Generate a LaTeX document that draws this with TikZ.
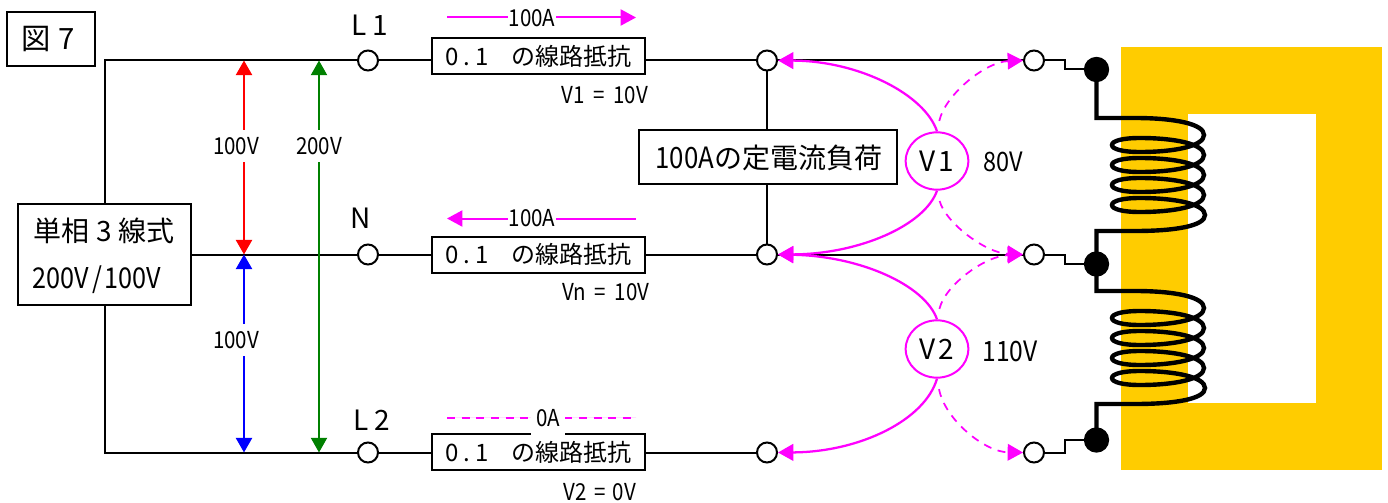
\documentclass[tikz,border=0pt]{standalone}
\usepackage{fontspec}
\setmainfont{Noto Sans CJK JP}
\newfontfamily\nar[FakeStretch=0.88]{Noto Sans CJK JP}
\usetikzlibrary{arrows.meta,shapes.geometric}
\definecolor{core}{HTML}{FFCC00}
\definecolor{mag}{HTML}{FF00FF}
\definecolor{grn}{HTML}{008000}
\tikzset{
  x=0.75pt,y=-0.75pt,
  wire/.style={draw=black,line width=1.5pt},
  term/.style={circle,draw=black,fill=white,line width=1.5pt,minimum size=15pt,inner sep=0pt},
  dotn/.style={circle,fill=black,minimum size=19pt,inner sep=0pt},
  res/.style={draw=black,fill=white,line width=1.5pt,minimum width=159.5pt,minimum height=27pt,inner sep=0pt,font=\fontsize{18pt}{20pt}\selectfont},
  bigbox/.style={draw=black,fill=white,line width=1.5pt,inner sep=0pt},
  big/.style={font=\fontsize{21pt}{23pt}\selectfont,inner sep=0pt},
  lab/.style={font=\nar\fontsize{17.5pt}{20pt}\selectfont,inner sep=0pt},
  gaplab/.style={lab,fill=white},
  ar/.style={{Triangle[length=11pt,width=12pt]}-{Triangle[length=11pt,width=12pt]},line width=1.9pt},
  msol/.style={draw=mag,line width=1.7pt,-{Triangle[length=11.5pt,width=12.5pt]}},
  mdash/.style={draw=mag,line width=1.3pt,dash pattern=on 6pt off 5pt,shorten <=8pt,-{Triangle[length=11.5pt,width=12.5pt]}},
  mcur/.style={draw=mag,fill=mag,line width=1.5pt},
  vm/.style={ellipse,draw=mag,fill=white,line width=1.5pt,minimum width=47pt,minimum height=43pt,inner sep=0pt,font=\fontsize{21pt}{23pt}\selectfont},
  coil/.style={draw=black,line width=3.3pt,line join=miter},
}
\newcommand{\rtext}{0\hspace{4pt}.\hspace{4pt}1\hspace{17pt}の線路抵抗}
\begin{document}
\begin{tikzpicture}
\useasboundingbox (0,0) rectangle (1388,503);
% core
\fill[core] (1121,47) rectangle (1382,470);
\fill[white] (1188,114) rectangle (1316,403);
% nodes
\node[bigbox,minimum width=66pt,minimum height=40pt] (fig) at (50.5,39) {};
\node[big,font=\fontsize{22pt}{24pt}\selectfont] (figt) at (48,39) {図\hspace{6pt}7};
\node[bigbox,minimum width=130pt,minimum height=75.5pt] (src) at (104.5,254.5) {};
\node[big] (srcA) at (104,231) {単相\hspace{5pt}3\hspace{5pt}線式};
\node[big,font=\nar\fontsize{21.5pt}{23pt}\selectfont] (srcB) at (97,280) {200V\hspace{2pt}/\hspace{2pt}100V};
\coordinate (topc) at (105,60.5);
\coordinate (botc) at (105,452.5);
\node[term] (t1) at (368,60.5) {};
\node[term] (t2) at (368,254.5) {};
\node[term] (t3) at (368,452.5) {};
\node[res] (r1) at (538.5,56.5) {\rtext};
\node[res] (r2) at (538.5,254.5) {\rtext};
\node[res] (r3) at (538.5,452) {\rtext};
\node[term] (m1) at (767,60.5) {};
\node[term] (m2) at (767,254.5) {};
\node[term] (m3) at (767,452.5) {};
\node[term] (e1) at (1034,60.5) {};
\node[term] (e2) at (1034,254.5) {};
\node[term] (e3) at (1034,452.5) {};
\node[bigbox,minimum width=193pt,minimum height=40.5pt] (load) at (768,157) {};
\node[big] (loadt) at (769,158) {{\nar\fontsize{22pt}{23pt}\selectfont 100A}の定電流負荷};
\node[dotn] (d1) at (1096.5,69.5) {};
\node[dotn] (d2) at (1096.5,264) {};
\node[dotn] (d3) at (1096.5,440) {};
\coordinate (c1a) at (1096.5,118);
\coordinate (c1b) at (1096.5,231);
\coordinate (c2a) at (1096.5,291);
\coordinate (c2b) at (1096.5,404);
% wires
\draw[wire] (src.north -| topc) -- (topc) -- (t1.west);
\draw[wire] (src.south -| botc) -- (botc) -- (t3.west);
\draw[wire] (src.east |- t2) -- (t2.west);
\draw[wire] (t1.east) -- (r1.west |- t1);
\draw[wire] (t2.east) -- (r2.west);
\draw[wire] (t3.east) -- (r3.west |- t3);
\draw[wire] (r1.east |- m1) -- (m1.west);
\draw[wire] (r2.east) -- (m2.west);
\draw[wire] (r3.east |- m3) -- (m3.west);
\draw[wire] (m1.east) -- (e1.west);
\draw[wire] (m2.east) -- (e2.west);
\draw[wire] (m1.south) -- (load.north -| m1);
\draw[wire] (load.south -| m2) -- (m2.north);
\draw[wire] (e1.east) -- (1065,60.5) -- (1065,69.5) -- (d1.west);
\draw[wire] (e2.east) -- (1065,254.5) -- (1065,264) -- (d2.west);
\draw[wire] (e3.east) -- (1065,452.5) -- (1065,440) -- (d3.west);
% coils
\draw[coil] (d1.center) -- (c1a) -- (1135,118)
  .. controls (1175,118) and (1204,124) .. (1204,135)
  .. controls (1204,146) and (1175,152) .. (1140,152)
  .. controls (1122,152) and (1112,149) .. (1112,145)
  .. controls (1112,141) and (1122,138) .. (1140,138)
  .. controls (1175,138) and (1204,144) .. (1204,155)
  .. controls (1204,166) and (1175,172) .. (1140,172)
  .. controls (1122,172) and (1112,169) .. (1112,165)
  .. controls (1112,161) and (1122,158) .. (1140,158)
  .. controls (1175,158) and (1204,164) .. (1204,175)
  .. controls (1204,186) and (1175,192) .. (1140,192)
  .. controls (1122,192) and (1112,189) .. (1112,185)
  .. controls (1112,181) and (1122,178) .. (1140,178)
  .. controls (1175,178) and (1204,184) .. (1204,195)
  .. controls (1204,206) and (1175,212) .. (1140,212)
  .. controls (1122,212) and (1112,209) .. (1112,205)
  .. controls (1112,201) and (1122,198) .. (1140,198)
  .. controls (1175,198) and (1205,204) .. (1205,215)
  .. controls (1205,226) and (1175,231) .. (1135,231)
  -- (c1b) -- (d2.center);
\draw[coil] (d2.center) -- (c2a) -- (1135,291)
  .. controls (1175,291) and (1204,297) .. (1204,308)
  .. controls (1204,319) and (1175,325) .. (1140,325)
  .. controls (1122,325) and (1112,322) .. (1112,318)
  .. controls (1112,314) and (1122,311) .. (1140,311)
  .. controls (1175,311) and (1204,317) .. (1204,328)
  .. controls (1204,339) and (1175,345) .. (1140,345)
  .. controls (1122,345) and (1112,342) .. (1112,338)
  .. controls (1112,334) and (1122,331) .. (1140,331)
  .. controls (1175,331) and (1204,337) .. (1204,348)
  .. controls (1204,359) and (1175,365) .. (1140,365)
  .. controls (1122,365) and (1112,362) .. (1112,358)
  .. controls (1112,354) and (1122,351) .. (1140,351)
  .. controls (1175,351) and (1204,357) .. (1204,368)
  .. controls (1204,379) and (1175,385) .. (1140,385)
  .. controls (1122,385) and (1112,382) .. (1112,378)
  .. controls (1112,374) and (1122,371) .. (1140,371)
  .. controls (1175,371) and (1205,377) .. (1205,388)
  .. controls (1205,399) and (1175,404) .. (1135,404)
  -- (c2b) -- (d3.center);
% voltage arrows
\coordinate (rT) at (244,60.5); \coordinate (rN) at (244,254.5); \coordinate (rB) at (244,452.5);
\coordinate (gT) at (319,60.5); \coordinate (gB) at (319,452.5);
\draw[ar,draw=grn,fill=grn,line width=1.6pt] (gT) -- (gB);
\draw[ar,draw=red,fill=red] (rT) -- (rN);
\draw[ar,draw=blue,fill=blue] (rN) -- (rB);
\node[gaplab,minimum width=36pt,minimum height=24pt] (lr) at (236,146) {100V};
\node[gaplab,minimum width=36pt,minimum height=24pt] (lg) at (319,146) {200V};
\node[gaplab,minimum width=36pt,minimum height=24pt] (lb) at (236,340) {100V};
% meters
\node[vm] (v1) at (937,161) {V\hspace{2pt}1};
\node[vm] (v2) at (937,349) {V\hspace{2pt}2};
\draw[msol] (v1.north) .. controls (925,95) and (860,61) .. (m1.east);
\draw[mdash] (v1.north) .. controls (945,95) and (985,62) .. (e1.west);
\draw[msol] (v1.south) .. controls (925,225) and (860,254) .. (m2.east);
\draw[mdash] (v1.south) .. controls (945,222) and (985,253) .. (e2.west);
\draw[msol] (v2.north) .. controls (925,285) and (860,256) .. (m2.east);
\draw[mdash] (v2.north) .. controls (945,285) and (985,256) .. (e2.west);
\draw[msol] (v2.south) .. controls (925,420) and (860,452) .. (m3.east);
\draw[mdash] (v2.south) .. controls (945,420) and (985,452) .. (e3.west);
% labels
\node[big] (l1) at (370,25) {L\hspace{4pt}1};
\node[big] (ln) at (361,218) {N};
\node[big] (l2) at (372,420) {L\hspace{4pt}2};
\node[lab] (v1t) at (1003,162) {\fontsize{20pt}{22pt}\selectfont 80V};
\node[lab] (v2t) at (1010,351) {\fontsize{21pt}{22pt}\selectfont 110V};
\node[lab] (s1) at (605,95) {V1\hspace{3pt} = \hspace{3pt}10V};
\node[lab] (s2) at (606,292) {Vn\hspace{3pt} = \hspace{3pt}10V};
\node[lab] (s3) at (600,492) {V2\hspace{2pt} = \hspace{2pt}0V};
% currents
\coordinate (a1) at (447,17.5); \coordinate (b1) at (636,17.5);
\coordinate (a2) at (447,218.5); \coordinate (b2) at (636,218.5);
\coordinate (a3) at (447,417.5); \coordinate (b3) at (636,417.5);
\draw[mcur,-{Triangle[length=11.5pt,width=12pt]}] (a1) -- (b1);
\draw[mcur,-{Triangle[length=11.5pt,width=12pt]}] (b2) -- (a2);
\draw[mcur,dash pattern=on 6pt off 5pt] (a3) -- (b3);
\node[gaplab,minimum width=36pt,minimum height=20pt] (c1) at (532,18) {100A};
\node[gaplab,minimum width=36pt,minimum height=20pt] (c2) at (532,218) {100A};
\node[gaplab,minimum width=26pt,minimum height=26pt] (c3) at (548,418) {0A};
\end{tikzpicture}
\end{document}
